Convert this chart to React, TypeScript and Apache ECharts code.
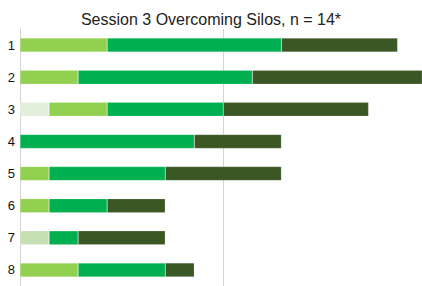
import React, { useEffect, useRef } from "react";
import * as echarts from "echarts";

const categories = ["1", "2", "3", "4", "5", "6", "7", "8"];
const seriesPale = [0, 0, 1, 0, 0, 0, 0, 0];
const seriesPale2 = [0, 0, 0, 0, 0, 0, 1, 0];
const seriesLight = [3, 2, 2, 0, 1, 1, 0, 2];
const seriesGreen = [6, 6, 4, 6, 4, 2, 1, 3];
const seriesDark = [4, 6, 5, 3, 4, 2, 3, 1];
const gridValue = 7;

export default function App() {
  const ref = useRef<HTMLDivElement>(null);
  useEffect(() => {
    document.body.style.margin = "0";
    const chart = echarts.init(ref.current!, null, { renderer: "svg" });
    const mk = (name: string, data: number[], color: string, extra: any = {}) => ({
      name,
      type: "bar",
      stack: "total",
      data,
      barWidth: 14,
      z: 3,
      itemStyle: { color, borderColor: "rgba(255,255,255,0.35)", borderWidth: 0.5 },
      ...extra,
    });
    chart.setOption({
      animation: false,
      title: {
        text: "Session 3 Overcoming Silos, n = 14*",
        left: "center",
        top: 6,
        textStyle: { fontFamily: "Liberation Sans", fontSize: 16, fontWeight: "normal", color: "#222" },
      },
      grid: { left: 20, right: 0, top: 29, bottom: -4, containLabel: false },
      xAxis: {
        type: "value",
        min: 0,
        max: 13.84,
        axisLabel: { show: false },
        axisLine: { show: false },
        axisTick: { show: false },
        splitLine: { show: false },
      },
      yAxis: {
        type: "category",
        data: categories,
        inverse: true,
        axisLine: { show: true, lineStyle: { color: "#d4d4d4", width: 1 } },
        axisTick: { show: false },
        axisLabel: { fontFamily: "Liberation Sans", fontSize: 13, color: "#111", margin: 5 },
      },
      series: [
        mk("A", seriesPale, "#e2efda", {
          markLine: {
            silent: true,
            symbol: "none",
            label: { show: false },
            z: 1,
            lineStyle: { color: "#d4d4d4", width: 1, type: "solid" },
            data: [{ xAxis: gridValue }],
          },
        }),
        mk("B", seriesPale2, "#c6e0b4"),
        mk("C", seriesLight, "#92d050"),
        mk("D", seriesGreen, "#00b050"),
        mk("E", seriesDark, "#3a5724"),
      ],
    });
    return () => chart.dispose();
  }, []);
  return <div ref={ref} style={{ width: 422, height: 286 }} />;
}
